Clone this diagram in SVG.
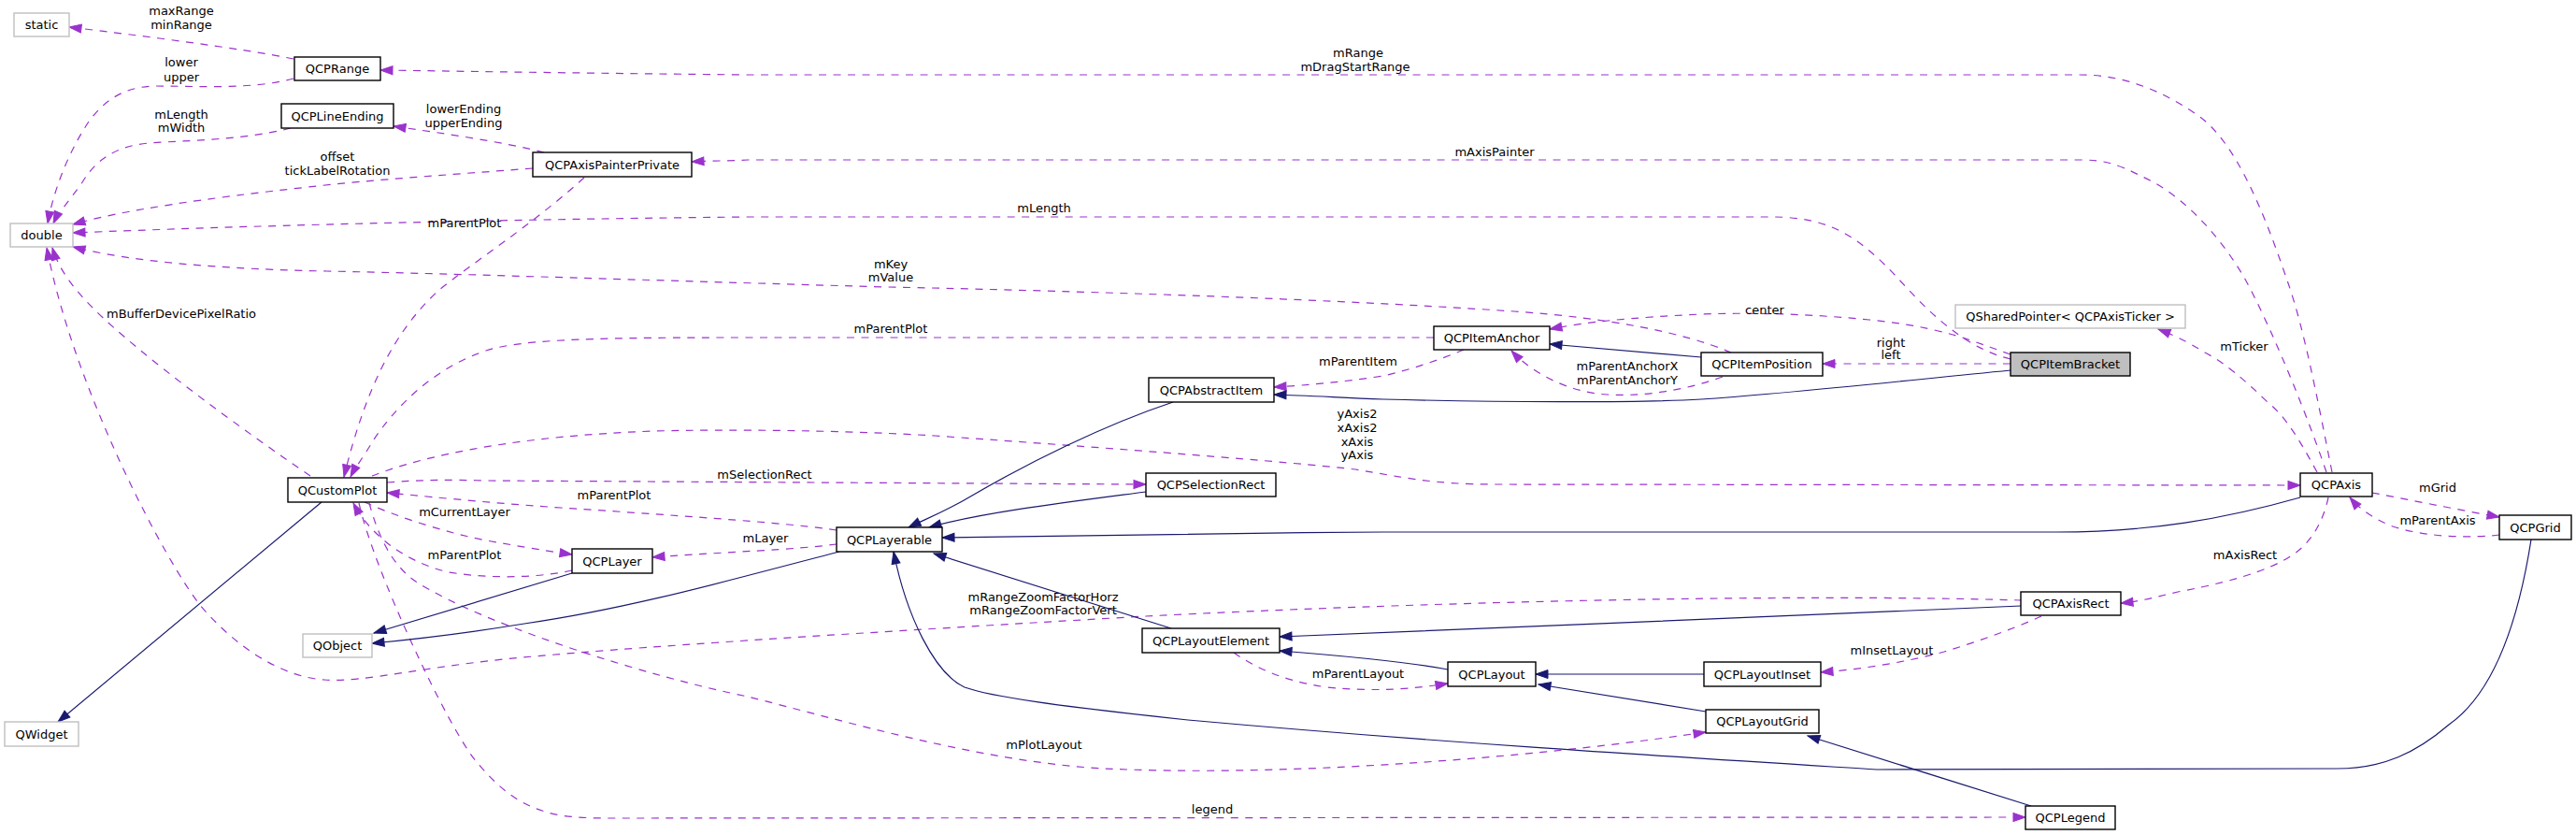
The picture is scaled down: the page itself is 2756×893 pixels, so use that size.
<svg xmlns="http://www.w3.org/2000/svg" width="2756" height="893" viewBox="0 0 2756 893">
<defs>
<style>
text{font-family:"DejaVu Sans","Liberation Sans",sans-serif;font-size:13px;fill:#000;text-anchor:middle}
.nd rect{fill:#fff;stroke:#000;stroke-width:1.4}
.ext rect{fill:#fff;stroke:#bfbfbf;stroke-width:1.4}
.cur rect{fill:#bfbfbf;stroke:#000;stroke-width:1.4}
.d{fill:none;stroke:#9a32cd;stroke-width:1.2;stroke-dasharray:8,7.5;marker-end:url(#ap)}
.s{fill:none;stroke:#191970;stroke-width:1.2;marker-end:url(#as)}
</style>
<marker id="ap" markerUnits="userSpaceOnUse" markerWidth="13" markerHeight="9" viewBox="0 0 13 9" refX="13" refY="4.5" orient="auto" overflow="visible"><path d="M0,0L13,4.5L0,9z" fill="#9a32cd" stroke="#9a32cd" stroke-width="1" stroke-dasharray="none"/></marker>
<marker id="as" markerUnits="userSpaceOnUse" markerWidth="13" markerHeight="9" viewBox="0 0 13 9" refX="13" refY="4.5" orient="auto" overflow="visible"><path d="M0,0L13,4.5L0,9z" fill="#191970" stroke="#191970" stroke-width="1"/></marker>
</defs>
<rect width="2756" height="893" fill="#fff"/>
<g id="connectors">
<g id="e-range-static"><path class="d" d="M314,63 C260,52 150,38 74,29"/><text x="194" y="16">maxRange</text><text x="194" y="31">minRange</text></g>
<g id="e-range-double"><path class="d" d="M314,84 C270,96 210,92 168,92 C130,92 110,110 95,130 C75,160 58,200 51,239"/><text x="194" y="71">lower</text><text x="194" y="87">upper</text></g>
<g id="e-lineending-double"><path class="d" d="M311,137 C260,150 200,150 160,153 C120,156 100,175 88,195 C74,215 62,228 57,239"/><text x="194" y="127">mLength</text><text x="194" y="141">mWidth</text></g>
<g id="e-painter-lineending"><path class="d" d="M582,163 C540,152 470,142 421,135"/><text x="496" y="121">lowerEnding</text><text x="496" y="136">upperEnding</text></g>
<g id="e-painter-double"><path class="d" d="M570,180 C480,187 400,192 330,200 C220,212 130,225 78,240"/><text x="361" y="172">offset</text><text x="361" y="187">tickLabelRotation</text></g>
<g id="e-bracket-double"><path class="d" d="M2151,384 C2100,372 2060,330 2030,297 C1990,255 1960,232 1896,232 L800,232 C500,235 250,242 78,249"/><text x="1117" y="227">mLength</text></g>
<g id="e-position-double"><path class="d" d="M1852,377 C1800,355 1720,340 1620,333 C1400,318 1100,310 950,307 C700,300 500,293 350,290 C200,287 120,275 78,264"/><text x="953" y="287">mKey</text><text x="953" y="301">mValue</text></g>
<g id="e-customplot-double"><path class="d" d="M332,509 C260,460 150,380 100,330 C75,305 62,285 56,265"/><text x="194" y="340">mBufferDevicePixelRatio</text></g>
<g id="e-axisrect-double"><path class="d" d="M2163,642 C1900,634 1500,645 1226,659 C1000,672 700,690 560,703 C450,713 390,730 347,727 C300,724 250,690 214,647 C180,605 80,420 50,265"/><text x="1116" y="643">mRangeZoomFactorHorz</text><text x="1116" y="657">mRangeZoomFactorVert</text></g>
<g id="e-painter-customplot"><path class="d" d="M625,190 C570,240 500,285 470,310 C420,355 390,420 368,510"/><text x="497" y="243">mParentPlot</text></g>
<g id="e-anchor-customplot"><path class="d" d="M1534,361 L800,361 C650,361 560,362 520,375 C460,395 420,440 400,470 C388,490 380,500 375,510"/><text x="953" y="356">mParentPlot</text></g>
<g id="e-customplot-axis"><path class="d" d="M398,509 C460,485 560,466 700,461 C780,459 900,460 1000,466 C1200,480 1380,494 1450,502 C1500,510 1530,518 1600,518 L2461,519"/><text x="1452" y="447">yAxis2</text><text x="1452" y="462">xAxis2</text><text x="1452" y="477">xAxis</text><text x="1452" y="491">yAxis</text></g>
<g id="e-customplot-selrect"><path class="d" d="M414,516 C450,513 480,513 520,514 L1226,518"/><text x="818" y="512">mSelectionRect</text></g>
<g id="e-layerable-customplot"><path class="d" d="M895,567 C850,560 750,553 600,543 C500,536 450,530 414,527"/><text x="657" y="534">mParentPlot</text></g>
<g id="e-customplot-layer"><path class="d" d="M390,537 C430,555 480,570 520,578 C560,585 590,590 612,593"/><text x="497" y="552">mCurrentLayer</text></g>
<g id="e-layerable-layer"><path class="d" d="M895,582 C850,588 780,590 698,596"/><text x="819" y="580">mLayer</text></g>
<g id="e-layer-customplot"><path class="d" d="M612,610 C580,617 530,620 480,612 C430,600 395,570 378,538"/><text x="497" y="598">mParentPlot</text></g>
<g id="e-customplot-layoutgrid"><path class="d" d="M395,538 C405,575 420,605 445,622 C520,670 700,725 800,745 C900,770 1050,815 1182,822 C1350,830 1550,815 1673,802 C1740,795 1790,788 1825,783"/><text x="1117" y="801">mPlotLayout</text></g>
<g id="e-customplot-legend"><path class="d" d="M384,538 C400,610 480,780 510,815 C535,845 560,865 600,872 C620,875 640,875 660,875 L2167,874"/><text x="1297" y="870">legend</text></g>
<g id="e-bracket-anchor"><path class="d" d="M2151,379 C2110,365 2080,350 2000,342 C1940,336 1880,334 1820,336 C1740,340 1700,344 1658,352"/><text x="1888" y="336">center</text></g>
<g id="e-bracket-position"><path class="d" d="M2151,389 L1950,389"/><text x="2023" y="371">right</text><text x="2023" y="384">left</text></g>
<g id="e-position-anchor"><path class="d" d="M1843,403 C1800,418 1760,424 1720,422 C1680,420 1640,400 1617,375"/><text x="1741" y="396">mParentAnchorX</text><text x="1741" y="411">mParentAnchorY</text></g>
<g id="e-anchor-abstractitem"><path class="d" d="M1566,374 C1540,385 1510,395 1480,402 C1440,408 1400,412 1363,414"/><text x="1453" y="391">mParentItem</text></g>
<g id="e-axis-range"><path class="d" d="M2495,505 C2480,430 2465,350 2447,300 C2420,220 2390,150 2351,123 C2310,95 2270,80 2226,80 L800,80 C600,78 480,76 407,75"/><text x="1453" y="61">mRange</text><text x="1450" y="76">mDragStartRange</text></g>
<g id="e-axis-painter"><path class="d" d="M2489,505 C2460,420 2420,330 2400,295 C2370,245 2330,205 2290,188 C2265,175 2250,171 2226,171 L800,171 C780,172 760,172 740,173"/><text x="1599" y="167">mAxisPainter</text></g>
<g id="e-axis-ticker"><path class="d" d="M2479,505 C2460,470 2445,445 2426,430 C2400,405 2380,388 2359,377 C2340,365 2322,357 2309,352"/><text x="2401" y="375">mTicker</text></g>
<g id="e-axis-grid"><path class="d" d="M2538,527 C2580,535 2630,545 2674,553"/><text x="2608" y="526">mGrid</text></g>
<g id="e-grid-axis"><path class="d" d="M2674,572 C2650,575 2600,576 2560,563 C2540,555 2525,545 2514,532"/><text x="2608" y="561">mParentAxis</text></g>
<g id="e-axis-axisrect"><path class="d" d="M2491,532 C2485,560 2472,578 2460,588 C2440,605 2400,620 2330,633 C2300,640 2290,643 2269,645"/><text x="2402" y="598">mAxisRect</text></g>
<g id="e-axisrect-inset"><path class="d" d="M2184,659 C2160,670 2120,685 2080,697 C2040,708 1990,716 1948,719"/><text x="2024" y="700">mInsetLayout</text></g>
<g id="e-element-layout"><path class="d" d="M1320,698 C1340,712 1370,728 1420,735 C1470,740 1510,737 1549,731"/><text x="1453" y="725">mParentLayout</text></g>
<path class="s" d="M344,537 L62,772"/>
<path class="s" d="M612,613 L400,677"/>
<path class="s" d="M898,590 C800,615 680,650 561,667 C500,677 450,683 398,688"/>
<path class="s" d="M1255,430 C1180,455 1100,495 1040,530 C1010,548 990,555 972,564"/>
<path class="s" d="M1226,526 C1150,536 1050,548 994,564"/>
<path class="s" d="M2461,532 C2380,555 2300,569 2200,569 L1480,569 C1300,570 1100,573 1008,575"/>
<path class="s" d="M2151,396 C2000,411 1900,422 1820,427 C1750,431 1600,430 1480,427 C1430,425 1400,423 1363,422"/>
<path class="s" d="M1820,382 L1658,368"/>
<path class="s" d="M1253,672 L999,592"/>
<path class="s" d="M2708,577 C2695,660 2670,740 2620,775 C2585,805 2550,822 2500,822 L2008,823 C1800,810 1550,795 1271,770 C1130,755 1060,745 1032,735 C1000,720 970,660 956,590"/>
<path class="s" d="M2162,648 C1900,659 1600,672 1369,681"/>
<path class="s" d="M1549,716 C1500,707 1420,700 1369,696"/>
<path class="s" d="M1823,721 L1643,721"/>
<path class="s" d="M1825,761 L1646,732"/>
<path class="s" d="M2173,862 L1934,787"/>
</g>
<g id="node-static" class="ext"><rect x="15" y="14" width="59" height="25"/><text x="44.5" y="31">static</text></g>
<g id="node-QCPRange" class="nd"><rect x="315" y="61" width="92" height="25"/><text x="361" y="78">QCPRange</text></g>
<g id="node-QCPLineEnding" class="nd"><rect x="301" y="111" width="120" height="26"/><text x="361" y="128.5">QCPLineEnding</text></g>
<g id="node-QCPAxisPainterPrivate" class="nd"><rect x="570" y="163" width="170" height="26"/><text x="655" y="180.5">QCPAxisPainterPrivate</text></g>
<g id="node-double" class="ext"><rect x="11" y="239" width="67" height="25"/><text x="44.5" y="256">double</text></g>
<g id="node-QCustomPlot" class="nd"><rect x="308" y="511" width="106" height="26"/><text x="361" y="528.5">QCustomPlot</text></g>
<g id="node-QCPLayer" class="nd"><rect x="612" y="587" width="86" height="26"/><text x="655" y="604.5">QCPLayer</text></g>
<g id="node-QObject" class="ext"><rect x="324" y="678" width="74" height="25"/><text x="361" y="695">QObject</text></g>
<g id="node-QWidget" class="ext"><rect x="5" y="772" width="79" height="26"/><text x="44.5" y="789.5">QWidget</text></g>
<g id="node-QCPAbstractItem" class="nd"><rect x="1229" y="404" width="134" height="26"/><text x="1296" y="421.5">QCPAbstractItem</text></g>
<g id="node-QCPSelectionRect" class="nd"><rect x="1226" y="506" width="139" height="25"/><text x="1295.5" y="523">QCPSelectionRect</text></g>
<g id="node-QCPLayerable" class="nd"><rect x="895" y="564" width="113" height="26"/><text x="951.5" y="581.5">QCPLayerable</text></g>
<g id="node-QCPLayoutElement" class="nd"><rect x="1222" y="672" width="147" height="26"/><text x="1295.5" y="689.5">QCPLayoutElement</text></g>
<g id="node-QCPItemAnchor" class="nd"><rect x="1534" y="349" width="124" height="25"/><text x="1596" y="366">QCPItemAnchor</text></g>
<g id="node-QCPItemPosition" class="nd"><rect x="1820" y="377" width="130" height="25"/><text x="1885" y="394">QCPItemPosition</text></g>
<g id="node-QCPItemBracket" class="cur"><rect x="2151" y="377" width="128" height="25"/><text x="2215" y="394">QCPItemBracket</text></g>
<g id="node-QSharedPointer" class="ext"><rect x="2092" y="326" width="246" height="25"/><text x="2215" y="343">QSharedPointer&lt; QCPAxisTicker &gt;</text></g>
<g id="node-QCPAxis" class="nd"><rect x="2461" y="506" width="77" height="25"/><text x="2499.5" y="523">QCPAxis</text></g>
<g id="node-QCPGrid" class="nd"><rect x="2674" y="551" width="77" height="26"/><text x="2712.5" y="568.5">QCPGrid</text></g>
<g id="node-QCPAxisRect" class="nd"><rect x="2162" y="633" width="107" height="25"/><text x="2215.5" y="650">QCPAxisRect</text></g>
<g id="node-QCPLayout" class="nd"><rect x="1549" y="708" width="94" height="26"/><text x="1596" y="725.5">QCPLayout</text></g>
<g id="node-QCPLayoutInset" class="nd"><rect x="1823" y="708" width="125" height="26"/><text x="1885.5" y="725.5">QCPLayoutInset</text></g>
<g id="node-QCPLayoutGrid" class="nd"><rect x="1825" y="759" width="121" height="25"/><text x="1885.5" y="776">QCPLayoutGrid</text></g>
<g id="node-QCPLegend" class="nd"><rect x="2167" y="862" width="96" height="25"/><text x="2215" y="879">QCPLegend</text></g>
</svg>
